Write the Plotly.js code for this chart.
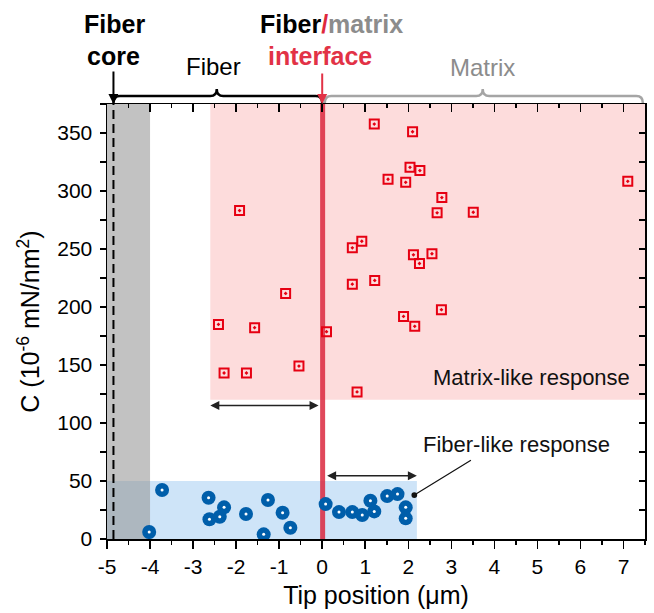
<!DOCTYPE html>
<html>
<head>
<meta charset="utf-8">
<script src="https://cdn.plot.ly/plotly-3.0.1.min.js"></script>
<style>html,body{margin:0;padding:0;background:#fff;}#chart{width:654px;height:613px;}</style>
</head>
<body>
<div id="chart"></div>
<script>
// Matrix-like response (red open squares)
var matrixX = [-1.92, 1.21, 0.70, 0.92, 0.70, 1.22, -0.85, -2.41, -1.57, 0.10, -0.54, -2.28, -1.76, 0.81,
               2.10, 2.04, 2.27, 1.53, 1.94, 7.10, 2.78, 2.67, 3.51, 2.12, 2.55, 2.26, 2.77, 1.89, 2.15];
var matrixY = [283.1, 357.7, 251.0, 256.7, 219.7, 222.9, 211.7, 185.0, 182.2, 178.7, 149.1, 143.1, 143.1, 126.8,
               351.1, 320.4, 317.6, 310.1, 307.5, 308.3, 294.3, 281.2, 281.7, 245.0, 245.9, 237.5, 197.7, 191.9, 183.3];
// Fiber-like response (blue filled circles)
var fiberX = [-4.02, -3.72, -2.64, -2.62, -2.38, -2.28, -1.77, -1.36, -1.26, -0.92, -0.74,
              0.08, 0.39, 0.70, 0.93, 1.12, 1.21, 1.51, 1.75, 1.94, 1.94];
var fiberY = [6.0, 42.2, 35.5, 17.0, 19.2, 27.3, 21.5, 4.0, 33.6, 22.6, 9.7,
              30.1, 23.2, 23.2, 20.7, 33.0, 23.8, 37.0, 38.7, 27.3, 17.8];

var xTickVals = [-5, -4, -3, -2, -1, 0, 1, 2, 3, 4, 5, 6, 7];
var xTickText = ['-5', '-4', '-3', '-2', '-1', '0', '1', '2', '3', '4', '5', '6', '7'];
var yTickVals = [0, 50, 100, 150, 200, 250, 300, 350];

var F = 'Arial, "Liberation Sans", sans-serif';
var RED = 'rgb(230,0,18)';
var BLUE = 'rgb(0,94,170)';

var traces = [
  {x: matrixX, y: matrixY, type: 'scatter', mode: 'markers', hoverinfo: 'skip',
   marker: {symbol: 'square-open-dot', size: 9, color: RED, line: {width: 2, color: RED}}},
  {x: fiberX, y: fiberY, type: 'scatter', mode: 'markers', hoverinfo: 'skip',
   marker: {symbol: 'circle', size: 14, color: BLUE, line: {width: 0}}},
  {x: fiberX, y: fiberY, type: 'scatter', mode: 'markers', hoverinfo: 'skip',
   marker: {symbol: 'circle', size: 3, color: '#ffffff', line: {width: 0}}},
  {x: fiberX, y: fiberY, type: 'scatter', mode: 'markers', hoverinfo: 'skip', xaxis: 'x2', yaxis: 'y2',
   marker: {size: 1, opacity: 0}}
];

function brace(x0, xm, x1, d, color) {
  var yb = 1.0023, yl = 1.0184, yp = 1.0345;
  return {type: 'path', xref: 'x', yref: 'paper', layer: 'above',
    path: 'M' + x0 + ',' + yb + ' Q' + x0 + ',' + yl + ' ' + (x0 + d) + ',' + yl +
          ' L' + (xm - d) + ',' + yl + ' Q' + xm + ',' + yl + ' ' + xm + ',' + yp +
          ' Q' + xm + ',' + yl + ' ' + (xm + d) + ',' + yl +
          ' L' + (x1 - d) + ',' + yl + ' Q' + x1 + ',' + yl + ' ' + x1 + ',' + yb,
    line: {color: color, width: 2.5}};
}

var shapes = [
  {type: 'rect', xref: 'x', yref: 'y', x0: -2.6, x1: 7.5, y0: 120, y1: 375, layer: 'below',
   fillcolor: 'rgb(253,220,220)', line: {width: 0}},
  {type: 'rect', xref: 'x', yref: 'y', x0: -5, x1: 2.2, y0: 0, y1: 50, layer: 'below',
   fillcolor: 'rgb(206,228,248)', line: {width: 0}},
  {type: 'rect', xref: 'x', yref: 'y', x0: -5, x1: -4, y0: 0, y1: 375, layer: 'below',
   fillcolor: 'rgba(150,150,150,0.58)', line: {width: 0}},
  {type: 'line', xref: 'x', yref: 'y', x0: -4.85, x1: -4.85, y0: 0, y1: 375, layer: 'below',
   line: {color: '#000', width: 2, dash: '9px,5px'}},
  {type: 'line', xref: 'x', yref: 'y', x0: 0.01, x1: 0.01, y0: 0, y1: 375, layer: 'below',
   line: {color: 'rgba(218,40,62,0.85)', width: 5}},
  brace(-4.85, -2.45, 0, 0.15, '#000'),
  brace(0.06, 3.73, 7.45, 0.15, 'rgb(165,165,165)')
];

var annotations = [
  {text: '<b>Fiber</b>', x: -4.82, y: 1.220, xref: 'x', yref: 'paper', showarrow: false,
   font: {family: F, size: 25, color: '#000'}},
  {text: '<b>core</b>', x: -4.84, y: 1.146, xref: 'x', yref: 'paper', showarrow: false,
   font: {family: F, size: 25, color: '#000'}},
  {text: '<b>Fiber<span style="color:rgb(222,40,60)">/</span><span style="color:rgb(140,140,140)">matrix</span></b>',
   x: 0.22, y: 1.220, xref: 'x', yref: 'paper', showarrow: false,
   font: {family: F, size: 25, color: '#000'}},
  {text: '<b>interface</b>', x: -0.05, y: 1.146, xref: 'x', yref: 'paper', showarrow: false,
   font: {family: F, size: 25, color: 'rgb(226,50,70)'}},
  {text: 'Fiber', x: -2.52, y: 1.122, xref: 'x', yref: 'paper', showarrow: false,
   font: {family: F, size: 24, color: '#000'}},
  {text: 'Matrix', x: 3.73, y: 1.120, xref: 'x', yref: 'paper', showarrow: false,
   font: {family: F, size: 24, color: 'rgb(140,140,140)'}},
  // arrows from top labels
  {text: '', x: -4.85, y: 1.0, xref: 'x', yref: 'paper', ax: 0, ay: -34, showarrow: true,
   arrowhead: 2, arrowsize: 1, arrowwidth: 2, arrowcolor: '#000'},
  {text: '', x: 0.0, y: 1.0, xref: 'x', yref: 'paper', ax: 0, ay: -32, showarrow: true,
   arrowhead: 2, arrowsize: 1, arrowwidth: 2, arrowcolor: 'rgb(226,50,70)'},
  // double arrows inside plot
  {text: '', x: -2.6, y: 115, ax: -0.05, ay: 115, xref: 'x', yref: 'y', axref: 'x', ayref: 'y',
   showarrow: true, arrowhead: 2, startarrowhead: 2, arrowside: 'end+start', arrowsize: 1.2,
   arrowwidth: 1.5, arrowcolor: '#222'},
  {text: '', x: 2.2, y: 54.5, ax: 0.08, ay: 54.5, xref: 'x', yref: 'y', axref: 'x', ayref: 'y',
   showarrow: true, arrowhead: 2, startarrowhead: 2, arrowside: 'end+start', arrowsize: 1.2,
   arrowwidth: 1.5, arrowcolor: '#222'},
  // Fiber-like pointer
  {text: '', x: 2.14, y: 37.9, ax: 3.49, ay: 68.6, xref: 'x', yref: 'y', axref: 'x', ayref: 'y',
   showarrow: true, arrowhead: 6, arrowsize: 1.2, arrowwidth: 1.2, arrowcolor: '#111'},
  {text: 'Fiber-like response', x: 4.52, y: 81.5, xref: 'x', yref: 'y', showarrow: false,
   font: {family: F, size: 22, color: '#111'}},
  {text: 'Matrix-like response', x: 4.87, y: 139.2, xref: 'x', yref: 'y', showarrow: false,
   font: {family: F, size: 22, color: '#111'}}
];

var layout = {
  width: 654, height: 613,
  margin: {l: 107, r: 9, t: 104, b: 74, pad: 0},
  paper_bgcolor: '#fff', plot_bgcolor: 'rgba(0,0,0,0)',
  showlegend: false,
  font: {family: F, color: '#000'},
  xaxis: {range: [-5, 7.5], tickmode: 'array', tickvals: xTickVals, ticktext: xTickText, ticks: 'outside', ticklen: 8, tickwidth: 1.5,
    tickcolor: '#000', minor: {dtick: 0.5, tick0: 0, ticks: 'outside', ticklen: 4, tickwidth: 1.5, tickcolor: '#000', showgrid: false},
    showline: true, linecolor: '#000', linewidth: 1.5, showgrid: false, zeroline: false,
    tickfont: {family: F, size: 21, color: '#000'},
    title: {text: 'Tip position (\u03bcm)', font: {family: F, size: 25, color: '#000'}, standoff: 10}},
  yaxis: {range: [0, 375], tickmode: 'array', tickvals: yTickVals, ticks: 'outside', ticklen: 6, tickwidth: 1.5,
    tickcolor: '#000', minor: {dtick: 25, tick0: 0, ticks: 'outside', ticklen: 6, tickwidth: 1.5, tickcolor: '#000', showgrid: false},
    showline: true, linecolor: '#000', linewidth: 1.5, showgrid: false, zeroline: false,
    tickfont: {family: F, size: 21, color: '#000'}, ticklabelstandoff: 3,
    title: {text: 'C (10<sup>-6</sup> mN/nm<sup>2</sup>)', font: {family: F, size: 25, color: '#000'}, standoff: 10}},
  xaxis2: {overlaying: 'x', side: 'top', range: [-5, 7.5], tickmode: 'array', tickvals: xTickVals, ticks: 'inside',
    ticklen: 8, tickwidth: 1.5, tickcolor: '#000', showticklabels: false,
    minor: {dtick: 0.5, tick0: 0, ticks: 'inside', ticklen: 4, tickwidth: 1.5, tickcolor: '#000', showgrid: false},
    showline: true, linecolor: '#000', linewidth: 1.5, showgrid: false, zeroline: false},
  yaxis2: {overlaying: 'y', side: 'right', range: [0, 375], tickmode: 'array', tickvals: yTickVals, ticks: 'inside',
    ticklen: 6, tickwidth: 1.5, tickcolor: '#000', showticklabels: false,
    minor: {dtick: 25, tick0: 0, ticks: 'inside', ticklen: 6, tickwidth: 1.5, tickcolor: '#000', showgrid: false},
    showline: true, linecolor: '#000', linewidth: 1.5, showgrid: false, zeroline: false},
  shapes: shapes,
  annotations: annotations
};

Plotly.newPlot('chart', traces, layout, {staticPlot: true, displayModeBar: false});
</script>
</body>
</html>
